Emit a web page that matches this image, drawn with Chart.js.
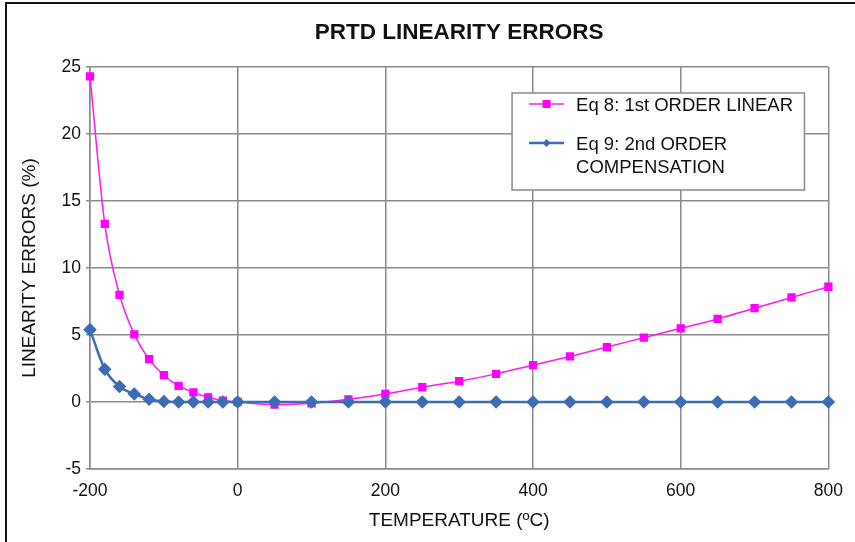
<!DOCTYPE html>
<html>
<head>
<meta charset="utf-8">
<script src="https://cdn.jsdelivr.net/npm/chart.js@4.4.1/dist/chart.umd.min.js"></script>
<style>
  html, body { margin: 0; padding: 0; background: #fff; }
  #wrap { position: relative; width: 855px; height: 542px; overflow: hidden; }
  #frame { position: absolute; left: 5px; top: 2px; width: 860px; height: 560px;
           border-top: 2px solid #111; border-left: 2px solid #111; pointer-events: none; }
  canvas { position: absolute; left: 0; top: 0; }
</style>
</head>
<body>
<div id="wrap">
  <canvas id="c" width="855" height="542"></canvas>
  <div id="frame"></div>
</div>
<script>
const chartTitle = 'PRTD LINEARITY ERRORS';
const xTitle = 'TEMPERATURE (\u00BAC)';
const yTitle = 'LINEARITY ERRORS (%)';
const temperatures = [-200, -180, -160, -140, -120, -100, -80, -60, -40, -20, 0, 50, 100, 150, 200, 250, 300, 350, 400, 450, 500, 550, 600, 650, 700, 750, 800];
const eq8Label = 'Eq 8: 1st ORDER LINEAR';
const eq8Values = [24.3, 13.3, 8.0, 5.05, 3.2, 2.0, 1.2, 0.72, 0.35, 0.1, 0.0, -0.2, -0.1, 0.2, 0.6, 1.1, 1.55, 2.1, 2.75, 3.4, 4.1, 4.8, 5.5, 6.2, 7.0, 7.8, 8.6];
const eq9Label = ['Eq 9: 2nd ORDER', 'COMPENSATION'];
const eq9Values = [5.4, 2.45, 1.15, 0.6, 0.2, 0.03, 0.0, 0.0, 0.0, 0.0, 0.0, 0.0, 0.0, 0.0, 0.0, 0.0, 0.0, 0.0, 0.0, 0.0, 0.0, 0.0, 0.0, 0.0, 0.0, 0.0, 0.0];
const xTicks = [-200, 0, 200, 400, 600, 800];
const yTicks = [-5, 0, 5, 10, 15, 20, 25];

const FONT = 'Arial, "Liberation Sans", sans-serif';
const pink = '#FF19F0';
const blue = '#3C6DB4';
const gridColor = '#8a8a8a';

const legendBox = {
  id: 'legendBox',
  afterDraw(chart) {
    const ctx = chart.ctx;
    const xs = chart.scales.x, ys = chart.scales.y;
    const left = xs.getPixelForValue(371.6), right = xs.getPixelForValue(767.6);
    const top = ys.getPixelForValue(23.06), bottom = ys.getPixelForValue(15.82);
    ctx.save();
    ctx.fillStyle = '#fff';
    ctx.fillRect(left, top, right - left, bottom - top);
    ctx.strokeStyle = '#8a8a8a';
    ctx.lineWidth = 1.5;
    ctx.strokeRect(left, top, right - left, bottom - top);
    ctx.font = '18.5px ' + FONT;
    ctx.textBaseline = 'middle';
    const ds = chart.data.datasets;
    const lx0 = left + 17, lx1 = left + 52, tx = left + 64;
    const rows = [top + 11, top + 50];
    ds.forEach((d, i) => {
      const y = rows[i];
      ctx.strokeStyle = d.borderColor;
      ctx.lineWidth = d.borderWidth;
      ctx.beginPath(); ctx.moveTo(lx0, y); ctx.lineTo(lx1, y); ctx.stroke();
      ctx.fillStyle = d.pointBackgroundColor;
      const cx = (lx0 + lx1) / 2;
      if (d.pointStyle === 'rect') {
        ctx.fillRect(cx - 4, y - 4, 8, 8);
      } else {
        ctx.beginPath();
        ctx.moveTo(cx, y - 4); ctx.lineTo(cx + 4, y); ctx.lineTo(cx, y + 4); ctx.lineTo(cx - 4, y);
        ctx.closePath(); ctx.fill();
      }
      ctx.fillStyle = '#111';
      const lines = Array.isArray(d.label) ? d.label : [d.label];
      lines.forEach((t, k) => ctx.fillText(t, tx, y + 2 + k * 22.5));
    });
    ctx.restore();
  }
};

new Chart(document.getElementById('c'), {
  type: 'line',
  data: {
    datasets: [
      {
        label: eq8Label,
        data: temperatures.map((t, i) => ({ x: t, y: eq8Values[i] })),
        borderColor: pink, backgroundColor: pink,
        pointBackgroundColor: '#FF00FF', pointBorderColor: '#FF00FF',
        borderWidth: 1.5, pointStyle: 'rect', pointRadius: 4.8,
        cubicInterpolationMode: 'monotone', order: 2, clip: false
      },
      {
        label: eq9Label,
        data: temperatures.map((t, i) => ({ x: t, y: eq9Values[i] })),
        borderColor: blue, backgroundColor: blue,
        pointBackgroundColor: blue, pointBorderColor: blue,
        borderWidth: 2.5, pointStyle: 'rectRot', pointRadius: 5,
        cubicInterpolationMode: 'monotone', order: 1, clip: false
      }
    ]
  },
  plugins: [legendBox],
  options: {
    responsive: false,
    animation: false,
    events: [],
    layout: { padding: { left: 0, right: 25, top: 0, bottom: 0 } },
    plugins: {
      legend: { display: false },
      tooltip: { enabled: false },
      title: {
        display: true, text: chartTitle, color: '#111', fullSize: false,
        font: { family: FONT, size: 22.5, weight: 'bold' },
        padding: { top: 19, bottom: 21 }
      }
    },
    scales: {
      x: {
        type: 'linear', min: -200, max: 800,
        afterBuildTicks(s) { s.ticks = xTicks.map(v => ({ value: v })); },
        afterFit(s) { s.height = 73; },
        grid: { color: gridColor, lineWidth: 1.5, drawTicks: false },
        border: { color: gridColor, width: 1.5 },
        ticks: { color: '#111', font: { family: FONT, size: 17.5 }, padding: 12, maxRotation: 0 },
        title: { display: true, text: xTitle, color: '#111', font: { family: FONT, size: 19 }, padding: { top: 4, bottom: 9.6 } }
      },
      y: {
        type: 'linear', min: -5, max: 25,
        afterBuildTicks(s) { s.ticks = yTicks.map(v => ({ value: v })); },
        afterFit(s) { s.width = 90; },
        grid: { color: gridColor, lineWidth: 1.5, tickLength: 4 },
        border: { color: gridColor, width: 1.5 },
        ticks: { color: '#111', font: { family: FONT, size: 17.5 }, padding: 5 },
        title: { display: true, text: yTitle, color: '#111', font: { family: FONT, size: 19 }, padding: { top: 18.6, bottom: 4 } }
      }
    }
  }
});
</script>
</body>
</html>
